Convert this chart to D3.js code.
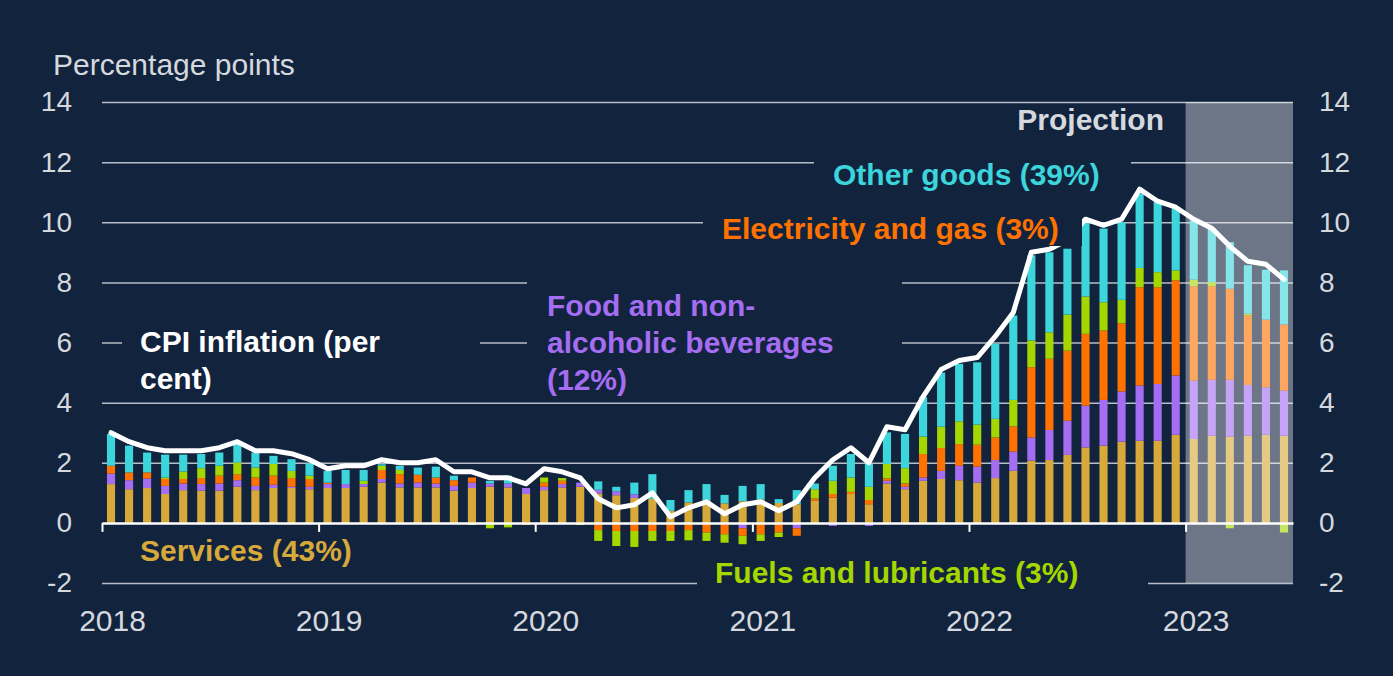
<!DOCTYPE html>
<html>
<head>
<meta charset="utf-8">
<script src="https://cdn.jsdelivr.net/npm/d3@7"></script>
<style>
  body { margin: 0; background: #12233e; }
  svg { display: block; font-family: "Liberation Sans", Arial, sans-serif; }
</style>
</head>
<body>
<svg id="chart" width="1393" height="676"></svg>
<script>
// ---- data (percentage point contributions, Jan 2018 - Jun 2023) ----
var years = ["2018", "2019", "2020", "2021", "2022", "2023"];
var yTicks = [-2, 0, 2, 4, 6, 8, 10, 12, 14];
var seriesKeys = ["services", "food", "elec", "fuels", "other"];

var services = [1.29,1.12,1.16,0.96,1.09,1.07,1.07,1.20,1.09,1.16,1.16,1.12,
  1.16,1.16,1.20,1.34,1.18,1.18,1.18,1.07,1.16,1.20,1.18,0.96,
  1.09,1.18,1.20,0.98,0.92,0.83,0.80,0.40,0.68,0.75,0.65,0.72,
  0.78,0.66,0.62,0.75,0.84,0.96,0.62,1.31,1.12,1.40,1.46,1.42,
  1.34,1.49,1.73,2.07,2.09,2.26,2.51,2.57,2.70,2.73,2.73,2.93,
  2.79,2.90,2.87,2.90,2.93,2.90];
var food = [0.35,0.30,0.32,0.27,0.22,0.22,0.24,0.22,0.14,0.11,0.04,0.08,
  0.13,0.13,0.09,0.12,0.13,0.16,0.13,0.16,0.18,0.11,0.13,0.20,
  0.11,0.11,0.14,0.12,0.13,0.12,0,0,0,0,0,-0.18,
  0,0,-0.18,0,-0.10,0,-0.10,0.09,0.08,0.11,0.27,0.48,
  0.53,0.60,0.64,0.77,1.00,1.14,1.39,1.52,1.67,1.84,1.89,1.97,
  1.94,1.86,1.89,1.69,1.58,1.50];
var elec = [0.26,0.26,0.20,0.23,0.15,0.20,0.26,0.20,0.28,0.30,0.29,0.26,
  0.05,0,0,0.30,0.31,0.26,0.20,0.19,0.17,0,0,-0.07,
  0.14,0.11,0,-0.24,-0.27,-0.27,-0.27,-0.27,-0.24,-0.32,-0.38,-0.25,
  -0.38,-0.32,-0.25,0.06,0.12,0.07,0.14,0.08,0.11,0.78,0.76,0.72,
  0.73,0.75,0.84,2.34,2.37,2.33,2.39,2.31,2.27,3.27,3.22,3.17,
  3.14,3.11,3.03,2.31,2.25,2.20];
var fuels = [0,0,0,0.05,0.25,0.33,0.33,0.39,0.33,0.39,0.24,0.11,
  0,0,0.11,0.14,0.14,0,0,0,-0.07,-0.18,-0.15,0,
  0.17,0.09,-0.07,-0.36,-0.50,-0.53,-0.33,-0.33,-0.34,-0.28,-0.28,-0.28,
  -0.22,-0.15,0,0.31,0.44,0.48,0.44,0.48,0.51,0.58,0.71,0.76,
  0.67,0.62,0.88,0.89,0.88,1.20,1.24,0.94,0.78,0.64,0.50,0.33,
  0.22,0.14,-0.18,0.06,0,-0.32];
var other = [1.06,0.89,0.66,0.76,0.56,0.47,0.44,0.67,0.50,0.27,0.39,0.41,
  0.39,0.47,0.36,0.05,0.14,0.24,0.36,0.15,0,0.09,0.26,0,
  0,0,0,0.28,0.15,0.39,0.82,0.36,0.41,0.54,0.28,0.51,
  0.51,0.13,0.47,0.19,0.50,0.78,0.76,1.05,1.14,1.31,1.80,1.91,
  2.07,2.50,2.81,2.83,2.66,2.19,2.54,2.45,2.58,2.48,2.34,2.06,
  1.98,1.78,1.55,1.61,1.66,1.80];
var cpi = [3.0,2.7,2.5,2.4,2.4,2.4,2.5,2.7,2.4,2.4,2.3,2.1,
  1.8,1.9,1.9,2.1,2.0,2.0,2.1,1.7,1.7,1.5,1.5,1.3,
  1.8,1.7,1.5,0.8,0.5,0.6,1.0,0.2,0.5,0.7,0.3,0.6,
  0.7,0.4,0.7,1.5,2.1,2.5,2.0,3.2,3.1,4.2,5.1,5.4,
  5.5,6.2,7.0,9.0,9.1,9.4,10.1,9.9,10.1,11.1,10.7,10.5,
  10.1,9.8,9.2,8.7,8.6,8.1];

var months = d3.timeMonth.range(new Date(2018, 0, 1), new Date(2023, 6, 1));
var projectionStart = new Date(2023, 0, 1);

var colors = { services: "#d6a93a", food: "#a46df2", elec: "#ff7200", fuels: "#a4d600", other: "#3cd5dc" };
var bg = "#12233e", textGrey = "#d5d9de", gridGrey = "#b8bec7";

// ---- scales ----
var svg = d3.select("#chart");
var left = 102, right = 1293;
var x = d3.scaleBand().domain(d3.range(months.length)).range([left, right]).paddingInner(0.55).paddingOuter(0.275);
var xt = d3.scaleTime().domain([months[0], new Date(2023, 6, 1)]).range([left, right]);
var y = d3.scaleLinear().domain([-2, 14]).range([583, 102]);

svg.append("rect").attr("width", 1393).attr("height", 676).attr("fill", bg);

// gridlines
var grid = svg.append("g").attr("transform", "translate(" + left + ",0)")
  .call(d3.axisLeft(y).tickValues(yTicks.filter(function (d) { return d !== 0; })).tickSize(-(right - left)).tickFormat(""));
grid.select(".domain").remove();
grid.selectAll("line").attr("stroke", gridGrey).attr("stroke-width", 1.5);

// stacked bars
var rows = months.map(function (m, i) {
  return { i: i, services: services[i], food: food[i], elec: elec[i], fuels: fuels[i], other: other[i] };
});
var stack = d3.stack().keys(seriesKeys).offset(d3.stackOffsetDiverging)(rows);

svg.append("g").selectAll("g").data(stack).join("g")
  .attr("fill", function (s) { return colors[s.key]; })
  .selectAll("rect").data(function (s) { return s; }).join("rect")
  .attr("x", function (d) { return x(d.data.i); })
  .attr("width", x.bandwidth())
  .attr("y", function (d) { return y(Math.max(d[0], d[1])); })
  .attr("height", function (d) { return Math.abs(y(d[0]) - y(d[1])); });

// zero line with year ticks
var xAxis = svg.append("g").attr("transform", "translate(0," + y(0) + ")")
  .call(d3.axisBottom(xt).tickValues(years.map(function (yr) { return new Date(+yr, 0, 1); }))
    .tickSize(9).tickSizeOuter(0).tickFormat(d3.timeFormat("%Y")));
xAxis.select(".domain").attr("stroke", "#ffffff").attr("stroke-width", 2.5);
xAxis.selectAll(".tick line").attr("stroke", "#ffffff").attr("stroke-width", 2);
xAxis.selectAll(".tick text").attr("x", 10).attr("y", 98).attr("dy", "0.35em")
  .attr("fill", textGrey).attr("font-size", 30);

// CPI line
var line = d3.line()
  .x(function (d, i) { return x(i) + x.bandwidth() / 2; })
  .y(function (d) { return y(d); });
svg.append("path").datum(cpi).attr("d", line)
  .attr("fill", "none").attr("stroke", "#ffffff").attr("stroke-width", 5)
  .attr("stroke-linejoin", "round").attr("stroke-linecap", "round");

// labels with background boxes
function label(lines, x0, y0, color, box) {
  if (box) svg.append("rect").attr("x", box[0]).attr("y", box[1]).attr("width", box[2] - box[0]).attr("height", box[3] - box[1]).attr("fill", bg);
  var t = svg.append("text").attr("x", x0).attr("y", y0).attr("fill", color)
    .attr("font-size", 30).attr("font-weight", "bold").attr("dominant-baseline", "central");
  lines.forEach(function (s, k) { t.append("tspan").attr("x", x0).attr("y", y0 + k * 37).text(s); });
}
label(["Other goods (39%)"], 833, 174, colors.other, [814, 152, 1131, 187]);
label(["Electricity and gas (3%)"], 722, 228, colors.elec, [703, 208, 1082, 246]);
label(["Food and non-", "alcoholic beverages", "(12%)"], 547, 305, colors.food, [527, 276, 902, 396]);
label(["CPI inflation (per", "cent)"], 140, 341, "#ffffff", [122, 322, 480, 396]);
label(["Services (43%)"], 140, 550, colors.services, null);
label(["Fuels and lubricants (3%)"], 715, 572, colors.fuels, [697, 558, 1148, 596]);

// projection shade
svg.append("rect").attr("x", xt(projectionStart)).attr("y", y(14))
  .attr("width", right - xt(projectionStart)).attr("height", y(-2) - y(14))
  .attr("fill", "#ffffff").attr("fill-opacity", 0.38);
svg.append("text").attr("x", 1164).attr("y", 119).attr("text-anchor", "end")
  .attr("dominant-baseline", "central").attr("font-size", 30).attr("font-weight", "bold")
  .attr("fill", textGrey).text("Projection");

// y labels
var fmt = function (d) { return String(d); };
var yl = svg.append("g").attr("transform", "translate(72,0)")
  .call(d3.axisLeft(y).tickValues(yTicks).tickSize(0).tickPadding(0).tickFormat(fmt));
var yr = svg.append("g").attr("transform", "translate(1319,0)")
  .call(d3.axisRight(y).tickValues(yTicks).tickSize(0).tickPadding(0).tickFormat(fmt));
[yl, yr].forEach(function (g) {
  g.select(".domain").remove();
  g.selectAll("text").attr("fill", textGrey).attr("font-size", 28).attr("font-family", null);
});

svg.append("text").attr("x", 53).attr("y", 64).attr("dominant-baseline", "central")
  .attr("font-size", 30).attr("fill", textGrey).text("Percentage points");
</script>
</body>
</html>
